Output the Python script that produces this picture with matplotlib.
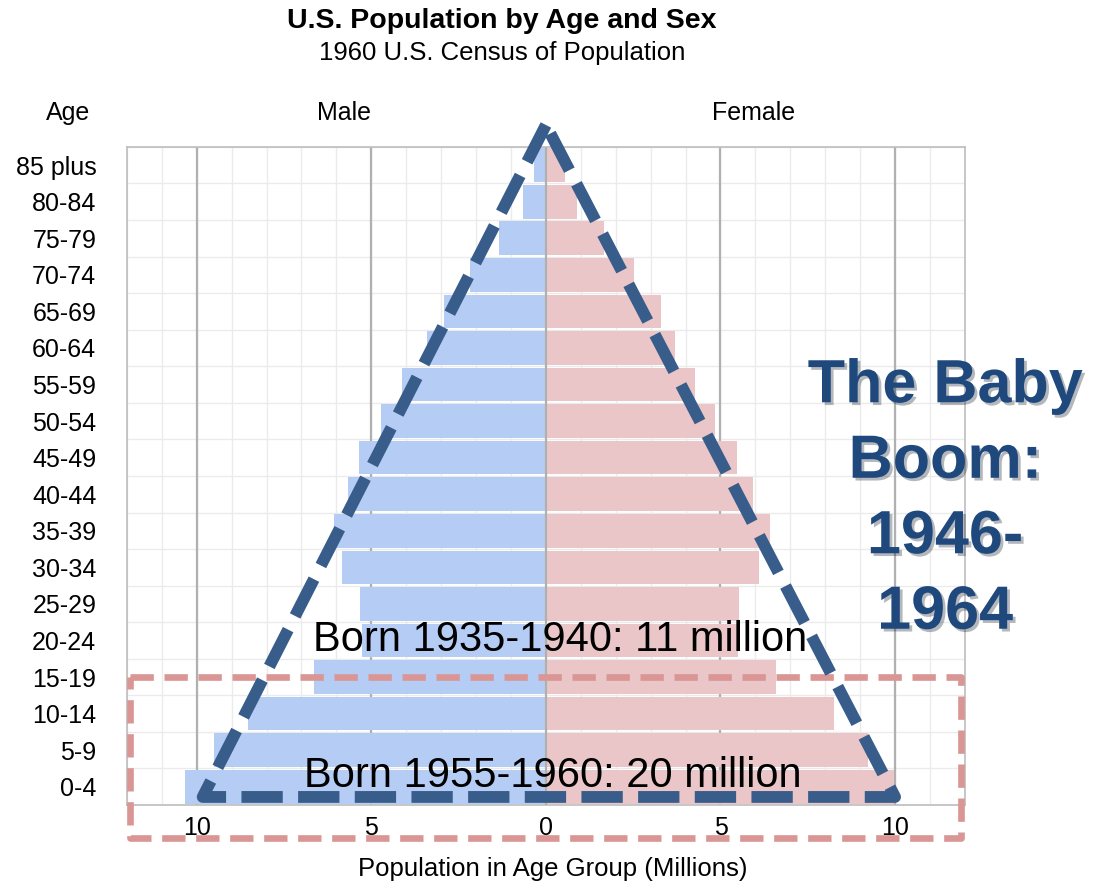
import numpy as np
import matplotlib
matplotlib.use("Agg")
import matplotlib.pyplot as plt
import matplotlib.patheffects as pe

plt.rcParams['font.family'] = ['Liberation Sans', 'DejaVu Sans']

ages = ['0-4', '5-9', '10-14', '15-19', '20-24', '25-29', '30-34', '35-39',
        '40-44', '45-49', '50-54', '55-59', '60-64', '65-69', '70-74',
        '75-79', '80-84', '85 plus']
male = [10.34, 9.5, 8.53, 6.64, 5.27, 5.32, 5.85, 6.08, 5.67, 5.35,
        4.73, 4.12, 3.40, 2.93, 2.16, 1.35, 0.65, 0.34]
female = [9.98, 9.22, 8.26, 6.59, 5.5, 5.53, 6.11, 6.42, 5.94, 5.48,
          4.83, 4.26, 3.69, 3.29, 2.51, 1.67, 0.90, 0.54]
xticks = [-10, -5, 0, 5, 10]
xticklabels = ['10', '5', '0', '5', '10']

# overlay annotations
tri_x = [0, -9.83, 10, 0]
tri_y = [18.1, -0.28, -0.28, 18.1]
box_x = [-11.9, 11.9, 11.9, -11.9, -11.9]
box_y = [3.0, 3.0, -1.4, -1.4, 3.0]

fig = plt.figure(figsize=(10.94, 8.85), dpi=100)
ax = fig.add_axes([0.116, 0.0904, 0.766, 0.7436])

y = np.arange(len(ages))
ax.barh(y, -np.array(male), height=0.92, color='#b5cdf4', zorder=2)
ax.barh(y, female, height=0.92, color='#eac6c8', zorder=2)

ax.set_xlim(-12, 12)
ax.set_ylim(-0.5, 17.5)

# grid: light every 1 million and per row, darker every 5
for v in range(-12, 13):
    ax.axvline(v, color='#ebebeb', lw=1, zorder=1)
for r in np.arange(-0.5, 17.6, 1):
    ax.axhline(r, color='#ebebeb', lw=1, zorder=1)
for v in xticks:
    ax.axvline(v, color='#b0b0b0', lw=1.6, zorder=3 if v == 0 else 1)

for s in ax.spines.values():
    s.set_color('#bdbdbd')
    s.set_linewidth(1.2)

ax.set_yticks(y)
ax.set_yticklabels(ages, fontsize=18)
ax.set_xticks(xticks)
ax.set_xticklabels(xticklabels, fontsize=18)
ax.tick_params(axis='y', length=0, pad=22)
ax.tick_params(axis='x', length=0, pad=8)

fig.text(0.459, 0.976, 'U.S. Population by Age and Sex', ha='center', va='center',
         fontsize=20.5, fontweight='bold')
fig.text(0.459, 0.94, '1960 U.S. Census of Population', ha='center', va='center',
         fontsize=18.5)
fig.text(0.062, 0.872, 'Age', ha='center', va='center', fontsize=18)
fig.text(0.314, 0.872, 'Male', ha='center', va='center', fontsize=18)
fig.text(0.689, 0.872, 'Female', ha='center', va='center', fontsize=18)
fig.text(0.505, 0.018, 'Population in Age Group (Millions)', ha='center',
         va='center', fontsize=18.5)

# pink box round the baby boom rows
ax.plot(box_x, box_y, color='#d99694', lw=4.8, dashes=(3.5, 1.6),
        clip_on=False, zorder=5)
# blue pyramid outline
ax.plot(tri_x, tri_y, color='#385d8a', lw=8.5, dashes=(3.5, 1.3),
        solid_capstyle='round', dash_capstyle='butt', clip_on=False, zorder=6)

ax.text(0.4, 4.0, 'Born 1935-1940: 11 million', ha='center', va='center',
        fontsize=30, zorder=7)
ax.text(0.2, 0.29, 'Born 1955-1960: 20 million', ha='center', va='center',
        fontsize=30, zorder=7)

fig.text(0.864, 0.435, 'The Baby\nBoom:\n1946-\n1964', ha='center', va='center',
         fontsize=44, fontweight='bold', color='#1f497d', linespacing=1.42,
         path_effects=[pe.withSimplePatchShadow(offset=(2, -2), alpha=0.3)])

fig.savefig('out.png', dpi=100)
